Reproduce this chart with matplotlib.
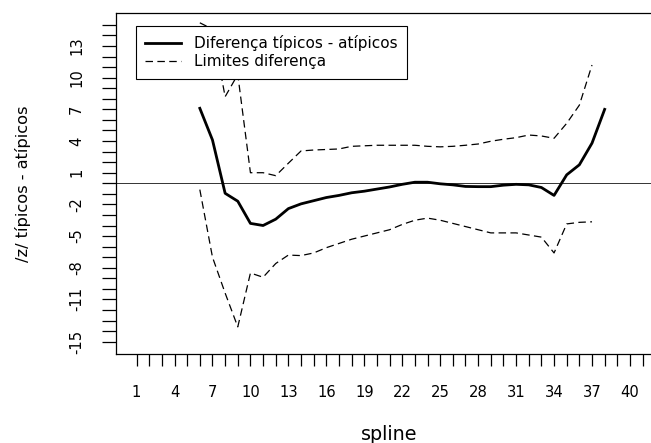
import matplotlib
matplotlib.use("Agg")
import matplotlib.pyplot as plt
import numpy as np

# spline index and z-difference between typical and atypical groups
x_diff = np.arange(6, 39)
diff = [7.1, 4.1, -0.95, -1.7, -3.8, -4.0, -3.4, -2.4, -1.95, -1.65, -1.35,
        -1.15, -0.9, -0.75, -0.55, -0.35, -0.1, 0.1, 0.1, -0.05, -0.15, -0.3,
        -0.32, -0.32, -0.18, -0.1, -0.15, -0.4, -1.15, 0.8, 1.75, 3.8, 7.0]

# limits of the difference
x_lim = np.arange(6, 38)
upper = [15.2, 14.6, 8.2, 10.3, 1.0, 1.0, 0.72, 1.9, 3.06, 3.15, 3.2, 3.25,
         3.5, 3.55, 3.6, 3.6, 3.6, 3.6, 3.5, 3.45, 3.5, 3.6, 3.72, 3.98, 4.17,
         4.32, 4.57, 4.48, 4.26, 5.68, 7.4, 11.2]
lower = [-0.6, -7.0, -10.4, -13.6, -8.5, -8.9, -7.6, -6.8, -6.85, -6.6, -6.1,
         -5.7, -5.3, -5.0, -4.7, -4.4, -3.9, -3.5, -3.3, -3.5, -3.8, -4.1,
         -4.4, -4.7, -4.7, -4.7, -4.9, -5.1, -6.6, -3.85, -3.7, -3.65]

xticks = np.arange(1, 42)
yticks = np.arange(-15, 16)
xlabels_shown = set(range(1, 42, 3))
ylabels_shown = {-15, -11, -8, -5, -2, 1, 4, 7, 10, 13}

fs = 10.6

fig = plt.figure(figsize=(6.51, 4.43), dpi=100)
ax = fig.add_axes([0.1787, 0.2002, 0.8395, 0.7698])

ax.axhline(0, color="#333333", lw=0.7, zorder=1)
ax.plot(x_diff, diff, color="black", lw=2.0, solid_joinstyle="round",
        label="Diferença típicos - atípicos", zorder=3)
ax.plot(x_lim, upper, color="black", lw=0.9, dashes=(6, 3.5),
        label="Limites diferença", zorder=2)
ax.plot(x_lim, lower, color="black", lw=0.9, dashes=(6, 3.5), zorder=2)

ax.set_xlim(-0.6, 42.6)
ax.set_ylim(-16.2, 16.1)

ax.set_xticks(xticks)
ax.set_xticklabels([str(v) if v in xlabels_shown else "" for v in xticks])
ax.set_yticks(yticks)
ax.set_yticklabels([str(v) if v in ylabels_shown else "" for v in yticks])

ax.tick_params(axis="x", direction="out", length=8.6, width=0.9,
               pad=13.5, labelsize=fs)
ax.tick_params(axis="y", direction="out", length=10.2, width=0.9,
               pad=13.0, labelsize=fs, labelrotation=90)
for lab in ax.get_yticklabels():
    lab.set_va("center")

for sp in ax.spines.values():
    sp.set_linewidth(0.9)
    sp.set_color("black")

ax.set_xlabel("spline", fontsize=13.8)
ax.xaxis.set_label_coords(0.5, -0.234)
ax.xaxis.label.set_va("center")
ax.set_ylabel("/z/ típicos - atípicos", fontsize=11.7)
ax.yaxis.set_label_coords(-0.1707, 0.5)
ax.yaxis.label.set_va("center")

leg = ax.legend(loc="upper left", bbox_to_anchor=(0.036, 0.963),
                fontsize=11, frameon=True, fancybox=False, framealpha=1,
                edgecolor="black", borderpad=0.62, handlelength=2.3,
                handletextpad=0.85, labelspacing=0.18, borderaxespad=0)
leg.get_frame().set_linewidth(0.8)

fig.savefig("out.png", dpi=100)
